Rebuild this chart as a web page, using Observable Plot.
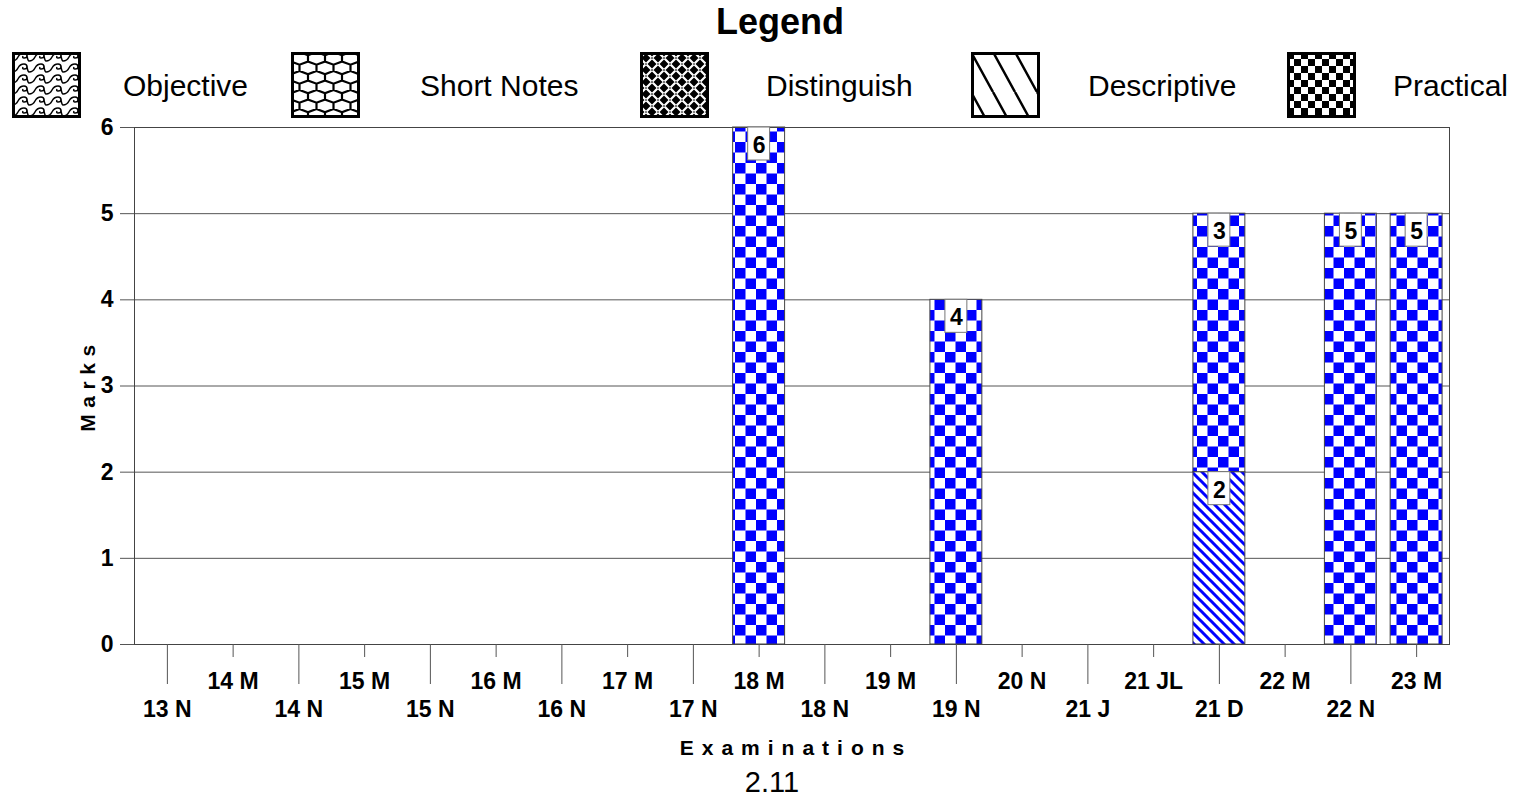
<!DOCTYPE html>
<html><head><meta charset="utf-8">
<script src="https://cdn.jsdelivr.net/npm/d3@7"></script>
<script src="https://cdn.jsdelivr.net/npm/@observablehq/plot@0.6"></script>
<style>
body{margin:0;background:#fff;font-family:"Liberation Sans",Arial,sans-serif;color:#000;}
#wrap{position:relative;width:1520px;height:800px;overflow:hidden;background:#fff;}
.abs{position:absolute;white-space:nowrap;}
.lab{font-size:30px;line-height:30px;top:71px;}
</style></head><body>
<div id="wrap">
<svg width="0" height="0" style="position:absolute"><defs>
  <pattern id="l-obj" patternUnits="userSpaceOnUse" width="17" height="11">
    <rect width="17" height="11" fill="#fff"/>
    <path d="M0,9 Q4,9 6,5 Q8,1 12,1 Q15,1 15,4 Q15,6 12,6 Q10,6 11,4 M15,4 Q16,9 17,9" fill="none" stroke="#000" stroke-width="1.5"/>
  </pattern>
  <pattern id="l-sn" patternUnits="userSpaceOnUse" width="17" height="19">
    <rect width="17" height="19" fill="#fff"/>
    <path d="M0,3.17 L8.5,0 L17,3.17 M0,3.17 L0,9.5 M17,3.17 L17,9.5 M0,9.5 L8.5,12.67 L17,9.5 M8.5,12.67 L8.5,19" fill="none" stroke="#000" stroke-width="2.2"/>
  </pattern>
  <pattern id="l-dis" patternUnits="userSpaceOnUse" width="12" height="12">
    <rect width="12" height="12" fill="#000"/>
    <path d="M0.5,5.5 L5.5,0.5 M6.5,0.5 L11.5,5.5 M0.5,6.5 L5.5,11.5 M6.5,11.5 L11.5,6.5" fill="none" stroke="#fff" stroke-width="2.2"/>
  </pattern>
  <pattern id="l-desc" patternUnits="userSpaceOnUse" width="22" height="40">
    <rect width="22" height="40" fill="#fff"/>
    <path d="M0,0 L22,40 M-22,0 L0,40 M22,0 L44,40" fill="none" stroke="#000" stroke-width="2.5"/>
  </pattern>
  <pattern id="l-prac" patternUnits="userSpaceOnUse" width="14" height="14">
    <rect width="14" height="14" fill="#fff"/>
    <rect width="7" height="7" fill="#000"/><rect x="7" y="7" width="7" height="7" fill="#000"/>
  </pattern>
  <pattern id="b-desc" patternUnits="userSpaceOnUse" width="10" height="10">
    <rect width="10" height="10" fill="#fff"/>
    <path d="M-5,5 L5,15 M0,0 L10,10 M5,-5 L15,5" stroke="#0000ff" stroke-width="3"/>
  </pattern>
  <pattern id="b-prac" patternUnits="userSpaceOnUse" width="21" height="21">
    <rect width="21" height="21" fill="#fff"/>
    <rect width="10.5" height="10.5" fill="#0000ff"/><rect x="10.5" y="10.5" width="10.5" height="10.5" fill="#0000ff"/>
  </pattern>
</defs></svg>

<div id="chart" style="position:absolute;left:0;top:100px;"></div>
<div class="abs" style="left:780px;top:4px;transform:translateX(-50%);font-size:36px;line-height:36px;font-weight:bold;">Legend</div>
<div id="legend"></div>
<div class="abs" style="left:88px;top:385px;transform:translate(-50%,-50%) rotate(-90deg);font-size:21px;font-weight:bold;letter-spacing:6.6px;line-height:22px;">Marks</div>
<div class="abs" style="left:796px;top:737px;transform:translateX(-50%);font-size:21px;font-weight:bold;letter-spacing:8px;line-height:22px;">Examinations</div>
<div class="abs" style="left:772px;top:768px;transform:translateX(-50%);font-size:29px;line-height:29px;">2.11</div>
</div>
<script>
const exams = ["13 N","14 M","14 N","15 M","15 N","16 M","16 N","17 M","17 N","18 M","18 N","19 M","19 N","20 N","21 J","21 JL","21 D","22 M","22 N","23 M"];
const seriesNames = ["Objective","Short Notes","Distinguish","Descriptive","Practical"];
const objective   = [0,0,0,0,0,0,0,0,0,0,0,0,0,0,0,0,0,0,0,0];
const shortNotes  = [0,0,0,0,0,0,0,0,0,0,0,0,0,0,0,0,0,0,0,0];
const distinguish = [0,0,0,0,0,0,0,0,0,0,0,0,0,0,0,0,0,0,0,0];
const descriptive = [0,0,0,0,0,0,0,0,0,0,0,0,0,0,0,0,2,0,0,0];
const practical   = [0,0,0,0,0,0,0,0,0,6,0,0,4,0,0,0,3,0,5,5];
const yTicks = [0,1,2,3,4,5,6];
const upperLabels = ["14 M","15 M","16 M","17 M","18 M","19 M","20 N","21 JL","22 M","23 M"];
const lowerLabels = ["13 N","14 N","15 N","16 N","17 N","18 N","19 N","21 J","21 D","22 N"];
const legendPatterns = ["url(#l-obj)","url(#l-sn)","url(#l-dis)","url(#l-desc)","url(#l-prac)"];
const barPatterns = ["url(#l-obj)","url(#l-sn)","url(#l-dis)","url(#b-desc)","url(#b-prac)"];

// legend
const swatchX = [12, 291, 640, 971, 1287];
const labelX = [123, 420, 766, 1088, 1393];
const leg = document.getElementById("legend");
seriesNames.forEach((name, i) => {
  const sw = document.createElement("div");
  sw.className = "abs";
  sw.style.left = swatchX[i] + "px"; sw.style.top = "52px";
  sw.innerHTML = `<svg width="69" height="66" style="display:block"><rect x="1.5" y="1.5" width="66" height="63" fill="${legendPatterns[i]}" stroke="#000" stroke-width="3"/></svg>`;
  leg.appendChild(sw);
  const lb = document.createElement("div");
  lb.className = "abs lab";
  lb.style.left = labelX[i] + "px";
  lb.textContent = name;
  leg.appendChild(lb);
});

// data table
const series = [objective, shortNotes, distinguish, descriptive, practical];
const rows = [];
const labels = [];
exams.forEach((exam, j) => {
  let cum = 0;
  series.forEach((vals, k) => {
    const v = vals[j];
    if (v > 0) {
      rows.push({exam, type: seriesNames[k], value: v});
      cum += v;
      labels.push({exam, top: cum, value: v});
    }
  });
});

const chart = Plot.plot({
  width: 1520,
  height: 660,
  marginLeft: 134,
  marginRight: 71,
  marginTop: 27,
  marginBottom: 116,
  style: {fontFamily: "'Liberation Sans', Arial, sans-serif", background: "none", overflow: "visible", color: "black"},
  x: {type: "band", domain: exams, paddingInner: 0.21, paddingOuter: 0.105, round: false},
  y: {domain: [0, 6]},
  color: {type: "ordinal", domain: seriesNames, range: barPatterns},
  marks: [
    Plot.ruleY(yTicks, {stroke: "#555", strokeWidth: 1}),
    Plot.barY(rows, {x: "exam", y: "value", fill: "type", stroke: "#444", strokeWidth: 1}),
    Plot.frame({stroke: "#444"}),
    Plot.axisY(yTicks, {tickSize: 14, tickPadding: 7, tickFormat: "d", fontSize: 23, fontWeight: "bold", label: null, stroke: "#555", fill: "black"}),
    Plot.axisX(upperLabels, {tickSize: 13, tickPadding: 15, fontSize: 23, fontWeight: "bold", label: null, stroke: "#555", fill: "black"}),
    Plot.axisX(lowerLabels, {tickSize: 40, tickPadding: 16, fontSize: 23, fontWeight: "bold", label: null, stroke: "#555", fill: "black"}),
    Plot.barY(labels, {x: "exam", y1: "top", y2: "top", insetLeft: 15, insetRight: 15, insetTop: 0, insetBottom: -33, fill: "white", stroke: "#777", strokeWidth: 1}),
    Plot.text(labels, {x: "exam", y: "top", text: d => String(d.value), dy: 18, fontSize: 23, fontWeight: "bold", fill: "black"})
  ]
});
document.getElementById("chart").appendChild(chart);
</script>
</body></html>
